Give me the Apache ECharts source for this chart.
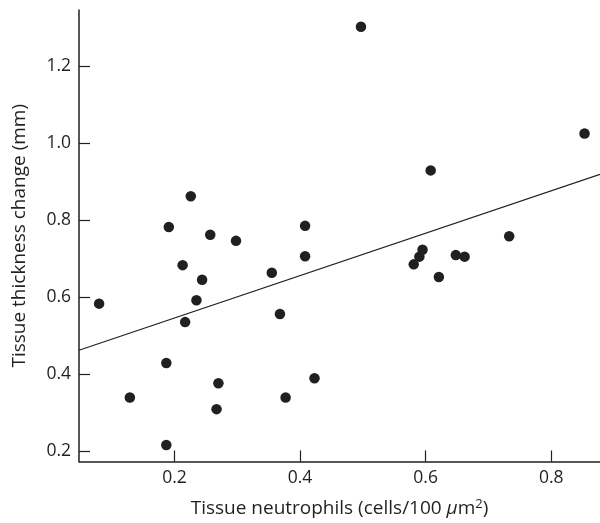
<!DOCTYPE html>
<html>
<head>
<meta charset="utf-8">
<script src="https://cdn.jsdelivr.net/npm/echarts@6/dist/echarts.min.js"></script>
<style>html,body{margin:0;padding:0;background:#fff}#c{width:600px;height:523px}</style>
</head>
<body>
<div id="c"></div>
<script>
// Data
var neutrophils = [0.080,0.129,0.187,0.187,0.217,0.270,0.267,0.377,0.423,0.226,
                   0.191,0.257,0.298,0.408,0.408,0.213,0.244,0.235,0.355,0.368,
                   0.608,0.733,0.595,0.590,0.581,0.648,0.662,0.621,0.497,0.853];
var thickness   = [0.584,0.340,0.430,0.217,0.536,0.377,0.310,0.340,0.390,0.863,
                   0.783,0.763,0.747,0.786,0.707,0.684,0.646,0.593,0.664,0.557,
                   0.930,0.759,0.724,0.706,0.686,0.710,0.706,0.653,1.303,1.026];
var fitX = [0.048, 0.8776];
var fitY = [0.4628, 0.920];
var xTicks = [0.2, 0.4, 0.6, 0.8];
var yTicks = [0.2, 0.4, 0.6, 0.8, 1.0, 1.2];

var points = neutrophils.map(function(x, i){ return [x, thickness[i]]; });
var fitLine = fitX.map(function(x, i){ return [x, fitY[i]]; });

var ink = '#231f20';
var font = 'Open Sans';
var chart = echarts.init(document.getElementById('c'), null, {renderer:'canvas'});
chart.setOption({
  animation: false,
  backgroundColor: '#fff',
  grid: {left: 79, top: 10, right: 0, bottom: 60, containLabel: false},
  xAxis: {
    type: 'value', min: 0.048, max: 0.8776,
    splitLine: {show: false},
    axisLine: {lineStyle: {color: ink, width: 1.5}},
    axisTick: {inside: true, length: 11, customValues: xTicks, lineStyle: {color: ink, width: 1.2}},
    axisLabel: {customValues: xTicks, margin: 8, fontSize: 17.5, color: ink, fontFamily: font,
      formatter: function(v){ return v.toFixed(1); }},
    name: '{a|Tissue neutrophils (cells/100 }{i|μ}{a|m}{s|2}{a|)}',
    nameLocation: 'middle', nameGap: 36,
    nameTextStyle: {
      rich: {
        a: {fontSize: 19, color: ink, fontFamily: font},
        i: {fontSize: 19, color: ink, fontFamily: font, fontStyle: 'italic'},
        s: {fontSize: 13, color: ink, fontFamily: font, padding: [0,0,9,0]}
      }
    }
  },
  yAxis: {
    type: 'value', min: 0.174, max: 1.3466,
    splitLine: {show: false},
    axisLine: {lineStyle: {color: ink, width: 1.5}},
    axisTick: {inside: true, length: 11, customValues: yTicks, lineStyle: {color: ink, width: 1.2}},
    axisLabel: {customValues: yTicks, margin: 8, fontSize: 17.5, color: ink, fontFamily: font,
      formatter: function(v){ return v.toFixed(1); }},
    name: 'Tissue thickness change (mm)',
    nameLocation: 'middle', nameGap: 50,
    nameTextStyle: {fontSize: 19, color: ink, fontFamily: font}
  },
  series: [
    {type: 'line', data: fitLine, showSymbol: false, symbol: 'none',
     lineStyle: {color: ink, width: 1.2}, silent: true, z: 1},
    {type: 'scatter', data: points, symbol: 'circle', symbolSize: 10.5,
     itemStyle: {color: ink, opacity: 1}, z: 2}
  ]
});
</script>
</body>
</html>
